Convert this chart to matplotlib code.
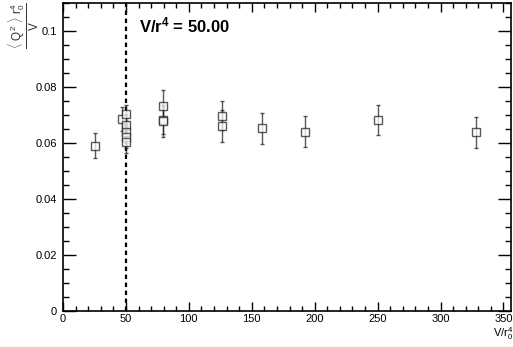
import matplotlib
matplotlib.use("Agg")
import matplotlib.pyplot as plt
from matplotlib.ticker import MultipleLocator, FuncFormatter

plt.rcParams['font.family'] = ['Liberation Sans', 'DejaVu Sans']
plt.rcParams['mathtext.fontset'] = 'custom'
plt.rcParams['mathtext.rm'] = 'Liberation Sans'
plt.rcParams['mathtext.it'] = 'Liberation Sans'
plt.rcParams['mathtext.bf'] = 'Liberation Sans:bold'

# data
x_vals = [25.5, 46.7, 50, 50, 50, 50, 50, 79.6, 79.6, 79.6, 126.7, 126.7, 158, 192.5, 250, 328]
y_vals = [0.0590, 0.0686, 0.0702, 0.0664, 0.0640, 0.0622, 0.0605,
          0.0733, 0.0683, 0.0678, 0.0698, 0.0660, 0.0652, 0.0640, 0.0682, 0.0638]
y_errs = [0.0045, 0.0042, 0.0034, 0.0040, 0.0040, 0.0040, 0.0040,
          0.0057, 0.0050, 0.0058, 0.0052, 0.0058, 0.0055, 0.0055, 0.0053, 0.0055]
x_ticks = [0, 50, 100, 150, 200, 250, 300, 350]
y_ticks = [0, 0.02, 0.04, 0.06, 0.08, 0.1]
ref_line = 50.0

W, H = 513, 347
fig = plt.figure(figsize=(W/100, H/100), dpi=100)
ax = fig.add_axes([63/W, 1-311/H, (511-63)/W, (311-3)/H])

ax.errorbar(x_vals, y_vals, yerr=y_errs, fmt='s', mfc='white', mec='#222222',
            ms=6.3, mew=1.0, ecolor='#222222', elinewidth=1.0, capsize=1.5,
            capthick=1.0, alpha=0.75, zorder=3)
ax.axvline(ref_line, color='black', ls=(0, (2, 1.6)), lw=1.6, zorder=2)

ax.set_xlim(0, 356)
ax.set_ylim(0, 0.11)
ax.set_xticks(x_ticks)
ax.set_yticks(y_ticks)
ax.xaxis.set_minor_locator(MultipleLocator(10))
ax.yaxis.set_minor_locator(MultipleLocator(0.005))
ax.yaxis.set_major_formatter(FuncFormatter(lambda v, p: ('%g' % round(v, 4))))

ax.tick_params(axis='x', which='major', direction='in', length=6.5, width=1.0,
               top=True, labelsize=8, pad=2.5)
ax.tick_params(axis='x', which='minor', direction='in', length=3.5, width=1.0, top=True)
ax.tick_params(axis='y', which='major', direction='in', length=9.5, width=1.0,
               right=True, labelsize=8, pad=4.5)
ax.tick_params(axis='y', which='minor', direction='in', length=4.5, width=1.0, right=True)
for s in ax.spines.values():
    s.set_linewidth(1.2)

ax.text(0.1695, 0.905, r'V/r$\mathbf{^4}$ = 50.00', transform=ax.transAxes,
        fontsize=12, fontweight='bold', ha='left', va='baseline')

fig.text(493/W, 1-337/H, r'V/r$_0^4$', fontsize=8, ha='left', va='baseline')
fig.text(24/W, 1-26/H, r'$\frac{\langle\ Q^2\ \rangle\ r_0^4}{V}$', fontsize=12,
         rotation=90, ha='center', va='center', color='#333333')

fig.savefig('out.png', dpi=100)
